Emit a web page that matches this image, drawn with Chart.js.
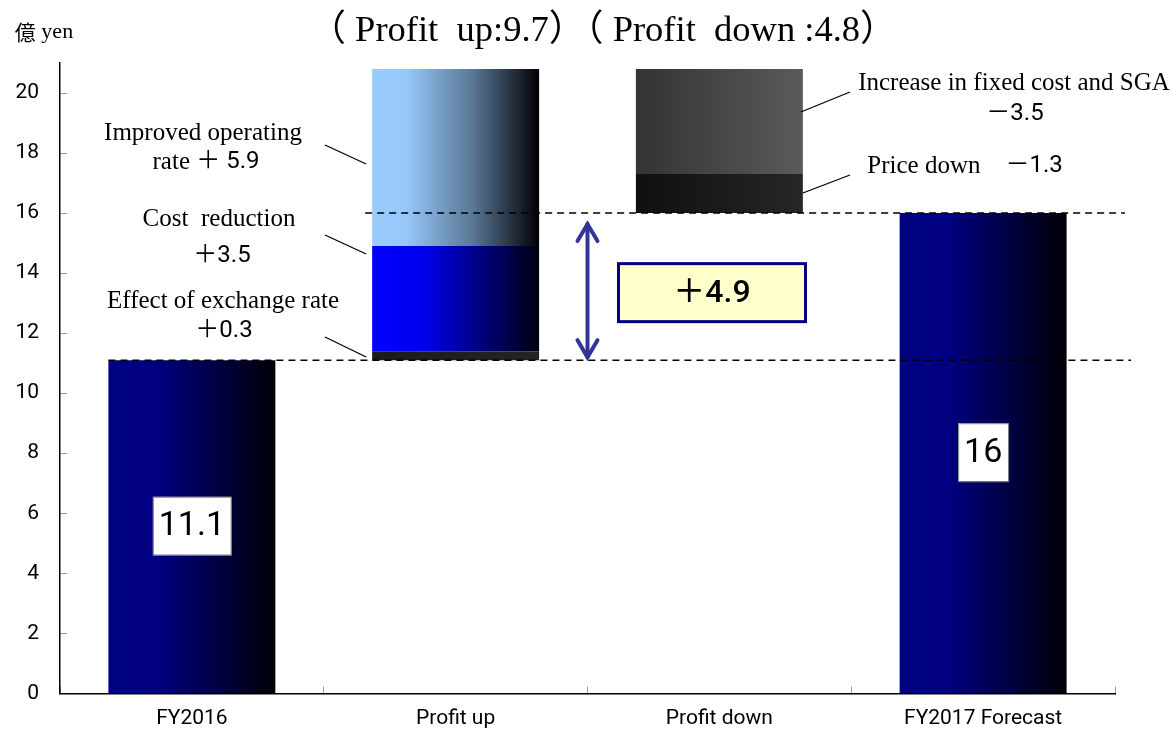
<!DOCTYPE html>
<html><head><meta charset="utf-8">
<script src="https://cdn.jsdelivr.net/npm/chart.js@4"></script>
<style>html,body{margin:0;padding:0;background:#fff;overflow:hidden;width:1173px;height:729px}</style>
</head><body>
<canvas id="c" width="1173" height="734" style="width:1173px;height:734px;display:block"></canvas>
<script>
// ---- data ----
const categories = ['FY2016', 'Profit up', 'Profit down', 'FY2017 Forecast'];
const startValue = 11.1;
const endValue = 16;
const upLabels = ['Effect of exchange rate', 'Cost reduction', 'Improved operating rate'];
const upValues = [0.3, 3.5, 5.9];
const downLabels = ['Price down', 'Increase in fixed cost and SGA'];
const downValues = [1.3, 3.5];
const yTicks = [0, 2, 4, 6, 8, 10, 12, 14, 16, 18, 20];
const totalUp = 9.7;
const totalDown = 4.8;
const netChange = 4.9;

// ---- styles ----
const SANS = "Roboto, 'Noto Sans CJK JP', sans-serif";
const SERIF = "'Liberation Serif', 'Noto Sans CJK JP', serif";
const gradStops = {
  navy: [[0, '#000084'], [0.3, '#000080'], [1, '#000006']],
  blue: [[0, '#0000ff'], [0.3, '#0000f0'], [1, '#000010']],
  light: [[0, '#99ccff'], [0.2, '#96c8fa'], [0.6, '#5a7896'], [1, '#000004']],
  exch: [[0, '#1a1a1a'], [1, '#242424']],
  price: [[0, '#0f0f0f'], [1, '#262626']],
  fixed: [[0, '#333333'], [1, '#5a5a5a']]
};
const BAR_PCT = 0.633;

function gradFor(key) {
  return function (ctx) {
    const chart = ctx.chart;
    const xs = chart.scales && chart.scales.x;
    if (!chart.chartArea || !xs) return gradStops[key][0][1];
    const c = xs.getPixelForValue(ctx.dataIndex);
    const w = (xs.width / categories.length) * BAR_PCT;
    const g = chart.ctx.createLinearGradient(c - w / 2, 0, c + w / 2, 0);
    gradStops[key].forEach(s => g.addColorStop(s[0], s[1]));
    return g;
  };
}

// ---- build floating datasets from arrays ----
function row(idx, range) { return categories.map((_, i) => i === idx ? range : null); }
const datasets = [];
datasets.push({ label: categories[0], data: row(0, [0, startValue]), backgroundColor: gradFor('navy') });
let acc = startValue;
const upKeys = ['exch', 'blue', 'light'];
upValues.forEach((v, k) => {
  datasets.push({ label: upLabels[k], data: row(1, [acc, +(acc + v).toFixed(2)]), backgroundColor: gradFor(upKeys[k]) });
  acc = +(acc + v).toFixed(2);
});
let accD = endValue;
const downKeys = ['price', 'fixed'];
downValues.forEach((v, k) => {
  datasets.push({ label: downLabels[k], data: row(2, [accD, +(accD + v).toFixed(2)]), backgroundColor: gradFor(downKeys[k]) });
  accD = +(accD + v).toFixed(2);
});
datasets.push({ label: categories[3], data: row(3, [0, endValue]), backgroundColor: gradFor('navy') });
datasets.forEach(d => { d.barPercentage = BAR_PCT; d.categoryPercentage = 1; d.borderWidth = 0; });

// ---- drawing helpers ----
function drawSegs(ctx, segs, cx, cy) {
  let total = 0;
  segs.forEach(s => { ctx.font = s.font; s.w = ctx.measureText(s.t).width; total += s.w; });
  let x = cx - total / 2;
  ctx.textBaseline = 'middle';
  ctx.textAlign = 'left';
  segs.forEach(s => { ctx.font = s.font; ctx.fillText(s.t, x, cy); x += s.w; });
}
function line(ctx, x1, y1, x2, y2) { ctx.beginPath(); ctx.moveTo(x1, y1); ctx.lineTo(x2, y2); ctx.stroke(); }

const annot = {
  id: 'annot',
  afterDatasetsDraw(chart) {
    const ctx = chart.ctx, ys = chart.scales.y, xs = chart.scales.x;
    const py = v => ys.getPixelForValue(v);
    const cat = i => xs.getPixelForValue(i);
    const bw = (xs.width / categories.length) * BAR_PCT;
    ctx.save();
    ctx.fillStyle = '#000';
    ctx.strokeStyle = '#000';

    // dashed reference lines
    ctx.lineWidth = 1.5;
    ctx.setLineDash([7, 5]);
    line(ctx, cat(0) - bw / 2, py(startValue), chart.chartArea.right + 16, py(startValue));
    line(ctx, cat(1) - bw / 2 - 7, py(endValue), chart.chartArea.right + 10, py(endValue));
    ctx.setLineDash([]);

    // double arrow
    const ax = (cat(1) + cat(2)) / 2;
    const yTop = py(endValue) + 9, yBot = py(startValue) - 1;
    ctx.strokeStyle = '#333399';
    ctx.lineWidth = 4;
    ctx.lineCap = 'round';
    line(ctx, ax, yTop + 2, ax, yBot - 2);
    ctx.beginPath(); ctx.moveTo(ax - 10, yTop + 19); ctx.lineTo(ax, yTop + 2); ctx.lineTo(ax + 10, yTop + 19); ctx.stroke();
    ctx.beginPath(); ctx.moveTo(ax - 10, yBot - 19); ctx.lineTo(ax, yBot - 2); ctx.lineTo(ax + 10, yBot - 19); ctx.stroke();
    ctx.lineCap = 'butt';

    // +4.9 box
    const bx1 = ax + 31, bx2 = ax + 218, bh = 58, bcy = py(13.35);
    ctx.fillStyle = '#ffffcc';
    ctx.fillRect(bx1, bcy - bh / 2, bx2 - bx1, bh);
    ctx.strokeStyle = '#000080';
    ctx.lineWidth = 3;
    ctx.strokeRect(bx1, bcy - bh / 2, bx2 - bx1, bh);
    ctx.fillStyle = '#000';
    drawSegs(ctx, [{ t: '＋' + netChange.toFixed(1), font: "500 32px " + SANS }], (bx1 + bx2) / 2, bcy + 1);

    // value boxes
    function valueBox(i, val, w) {
      const cx = cat(i), cy = py(val / 2) - 1, h = 58;
      ctx.fillStyle = '#fff';
      ctx.fillRect(cx - w / 2, cy - h / 2, w, h);
      ctx.strokeStyle = '#888';
      ctx.lineWidth = 1;
      ctx.strokeRect(cx - w / 2 + 0.5, cy - h / 2 + 0.5, w, h);
      ctx.fillStyle = '#000';
      drawSegs(ctx, [{ t: String(val), font: "34px " + SANS }], cx, cy + 1);
    }
    valueBox(0, startValue, 78);
    valueBox(3, endValue, 50);

    // left annotations
    const ser = "25px " + SERIF, san = "24px " + SANS;
    ctx.fillStyle = '#000';
    drawSegs(ctx, [{ t: 'Improved operating', font: ser }], 203, 133);
    drawSegs(ctx, [{ t: 'rate ', font: ser }, { t: '＋ ' + upValues[2].toFixed(1), font: san }], 206, 162);
    drawSegs(ctx, [{ t: 'Cost  reduction', font: ser }], 219, 219);
    drawSegs(ctx, [{ t: '＋' + upValues[1].toFixed(1), font: san }], 222, 256);
    drawSegs(ctx, [{ t: upLabels[0], font: ser }], 223, 301);
    drawSegs(ctx, [{ t: '＋' + upValues[0].toFixed(1), font: san }], 224, 331);
    // right annotations
    drawSegs(ctx, [{ t: downLabels[1], font: ser }], 1014, 83);
    drawSegs(ctx, [{ t: '－' + downValues[1].toFixed(1), font: san }], 1015, 114);
    drawSegs(ctx, [{ t: 'Price down　', font: ser }, { t: '－' + downValues[0].toFixed(1), font: san }], 965, 166);

    // leader lines
    ctx.strokeStyle = '#000';
    ctx.lineWidth = 1.3;
    const lx = cat(1) - bw / 2;
    line(ctx, 325, 145, lx - 6, 164);
    line(ctx, 325, 235, lx - 6, 254);
    line(ctx, 325, 337, lx - 6, 357);
    const rx = cat(2) + bw / 2;
    line(ctx, rx - 2, 112, 850, 92);
    line(ctx, rx, 193, 850, 175);

    // title & unit
    drawSegs(ctx, [{ t: '（ Profit  up:' + totalUp.toFixed(1) + '）（ Profit  down :' + totalDown.toFixed(1) + '）', font: "36.5px " + SERIF }], 603, 31);
    drawSegs(ctx, [{ t: '億', font: "21px 'Noto Sans CJK JP'" }, { t: ' yen', font: "22px " + SERIF }], 44, 32);
    ctx.restore();
  }
};

new Chart(document.getElementById('c'), {
  type: 'bar',
  data: { labels: categories, datasets },
  options: {
    responsive: false,
    animation: false,
    layout: { padding: { top: 63, right: 58, left: 0, bottom: 0 } },
    plugins: { legend: { display: false }, tooltip: { enabled: false }, title: { display: false } },
    scales: {
      x: {
        stacked: true,
        grid: { offset: true, drawOnChartArea: false, tickLength: -7, color: '#999', lineWidth: 1 },
        border: { color: '#000', width: 1.5 },
        ticks: { color: '#000', font: { family: SANS, size: 21, lineHeight: 1 }, padding: 22 },
        afterFit: s => { s.height = 36; }
      },
      y: {
        stacked: false,
        min: 0, max: 21,
        grid: { drawOnChartArea: false, tickLength: -7, color: '#999', lineWidth: 1 },
        border: { color: '#000', width: 1.5 },
        ticks: { color: '#000', font: { family: SANS, size: 21 }, padding: 28 },
        afterBuildTicks: s => { s.ticks = yTicks.map(v => ({ value: v })); },
        afterFit: s => { s.width = 60; }
      }
    }
  },
  plugins: [annot]
});
</script>
</body></html>
